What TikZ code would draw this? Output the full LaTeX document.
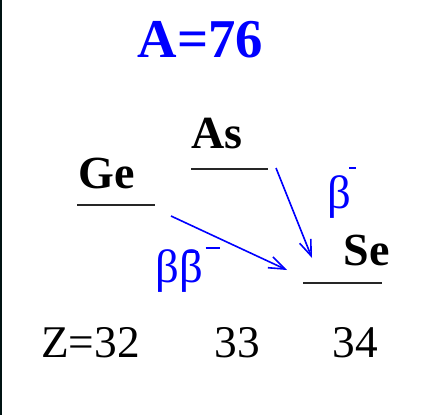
\documentclass[tikz,border=0pt]{standalone}
\usepackage{fontspec}
\setmainfont{Liberation Serif}
\usetikzlibrary{arrows.meta}

\begin{document}
\begin{tikzpicture}[x=0.75pt, y=-0.75pt,
  elem/.style={inner sep=0pt, anchor=base, font=\fontsize{34.5}{36}\selectfont\bfseries},
  zlab/.style={inner sep=0pt, anchor=base, font=\fontsize{34}{36}\selectfont},
  decay/.style={inner sep=0pt, anchor=base west, text=blue, font=\fontsize{35}{38}\selectfont},
  level/.style={line width=1.6pt, black!85},
  arrow/.style={-{Straight Barb[length=12pt, width=9pt]}, line width=1.2pt, blue},
]
  \useasboundingbox (0,0) rectangle (424,415);
  \draw[line width=1.2pt, black!85!teal] (0.8,0) -- (0.8,415);

  \node[inner sep=0pt, anchor=base, text=blue, font=\fontsize{41}{44}\selectfont\bfseries] (amass) at (200.5,57) {A=76};

  \node[elem] (ge) at (106.5,188) {Ge};
  \node[elem] (as) at (217,148) {As};
  \node[elem] (se) at (366.5,265) {Se};

  \coordinate (ge1) at (77,205);  \coordinate (ge2) at (155,205);
  \coordinate (as1) at (191,169); \coordinate (as2) at (268,169);
  \coordinate (se1) at (303,283); \coordinate (se2) at (382,283);
  \draw[level] (ge1) -- (ge2);
  \draw[level] (as1) -- (as2);
  \draw[level] (se1) -- (se2);

  \coordinate (asout) at (276,168); \coordinate (sein1) at (312,258);
  \coordinate (geout) at (171,216); \coordinate (sein2) at (287,270);
  \draw[arrow] (asout) -- (sein1);
  \draw[arrow] (geout) -- (sein2);

  % superscript minus signs drawn as short raised rules
  \node[decay] (bm) at (327,208) {β\kern-0.04em\raisebox{0.83em}{\rule{0.15em}{0.05em}}};
  \node[decay] (bbm) at (155,282) {ββ\kern-0.34em\raisebox{0.62em}{\rule{0.24em}{0.045em}}\kern0.16em\raisebox{0.71em}{\rule{0.3em}{0.05em}}};

  \node[zlab] (z32) at (90.5,357) {Z=32};
  \node[zlab] (z33) at (237,357) {33};
  \node[zlab] (z34) at (355.5,357) {34};
\end{tikzpicture}
\end{document}
